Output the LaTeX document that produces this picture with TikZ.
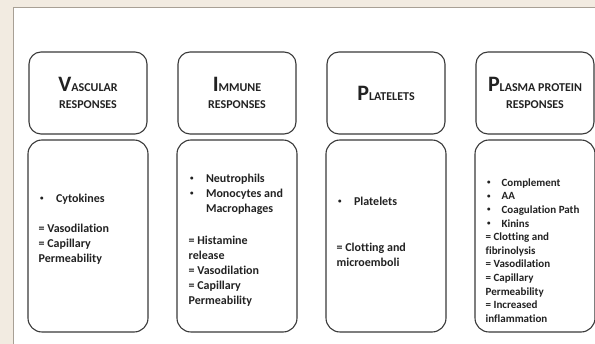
\documentclass[tikz,border=0pt]{standalone}
\usepackage{fontspec}
\setmainfont{Carlito}[Ligatures=NoCommon]
\usetikzlibrary{positioning}

\definecolor{slidebg}{HTML}{F2EBE1}
\definecolor{panelline}{HTML}{A8A095}
\definecolor{boxline}{HTML}{3A3A3A}
\definecolor{ink}{HTML}{222222}

\newcommand{\hdcap}[1]{{\fontsize{22}{17}\selectfont #1}}
\newcommand{\bulitem}[1]{\makebox[1.45em][l]{\hspace{1.5pt}\raisebox{0.3ex}{\fontsize{7}{7}\selectfont\textbullet}}#1}

\begin{document}
\begin{tikzpicture}[x=1pt,y=-1pt,node distance=149pt,on grid]
       \tikzstyle{head}=[draw=boxline,line width=1.1pt,rounded corners=12pt,
         minimum width=118pt,minimum height=82pt,align=center,text=ink,
         font=\bfseries\fontsize{12}{17}\selectfont]
       \tikzstyle{bodybox}=[draw=boxline,line width=1.1pt,rounded corners=14pt,
         minimum width=120pt,minimum height=192pt]
       \tikzstyle{bodytext}=[anchor=north west,inner sep=0pt,align=left,text=ink,
         font=\bfseries\fontsize{12}{15}\selectfont]

       \useasboundingbox (0,0) rectangle (595,344);
       \fill[slidebg] (0,0) rectangle (595,344);
       \fill[white] (13,7) rectangle (595,344);
       \draw[panelline,line width=0.8pt] (13,344) -- (13,7) -- (595,7);

       \node[head] (vasc) at (88,93) {\hdcap{V}ASCULAR\\RESPONSES};
       \node[head] (immune) [right =of vasc] {\hdcap{I}MMUNE\\RESPONSES};
       \node[head] (plat) [right =of immune] {\hdcap{P}LATELETS};
       \node[head] (plasma) [right =of plat] {\hdcap{P}LASMA PROTEIN\\RESPONSES};

       \node[bodybox] (vasc_b) [below =143pt of vasc] {};
       \node[bodybox] (immune_b) [below =143pt of immune] {};
       \node[bodybox] (plat_b) [below =143pt of plat] {};
       \node[bodybox] (plasma_b) [below =143pt of plasma] {};

       \node[bodytext] (vasc_t) at ([xshift=11pt,yshift=-54pt]vasc_b.north west)
         {\bulitem{Cytokines}\\[15pt]= Vasodilation\\= Capillary\\Permeability};
       \node[bodytext] (immune_t) at ([xshift=12pt,yshift=-34pt]immune_b.north west)
         {\bulitem{Neutrophils}\\\bulitem{Monocytes and}\\\hspace*{1.45em}Macrophages\\[17pt]
          = Histamine\\release\\= Vasodilation\\= Capillary\\Permeability};
       \node[bodytext] (plat_t) at ([xshift=11pt,yshift=-57pt]plat_b.north west)
         {\bulitem{Platelets}\\[31pt]= Clotting and\\microemboli};
       \node[bodytext,font=\bfseries\fontsize{11}{13.6}\selectfont] (plasma_t)
         at ([xshift=11pt,yshift=-39pt]plasma_b.north west)
         {\bulitem{Complement}\\\bulitem{AA}\\\bulitem{Coagulation Path}\\\bulitem{Kinins}\\
          = Clotting and\\fibrinolysis\\= Vasodilation\\= Capillary\\Permeability\\
          = Increased\\inflammation};

     \end{tikzpicture}
\end{document}
